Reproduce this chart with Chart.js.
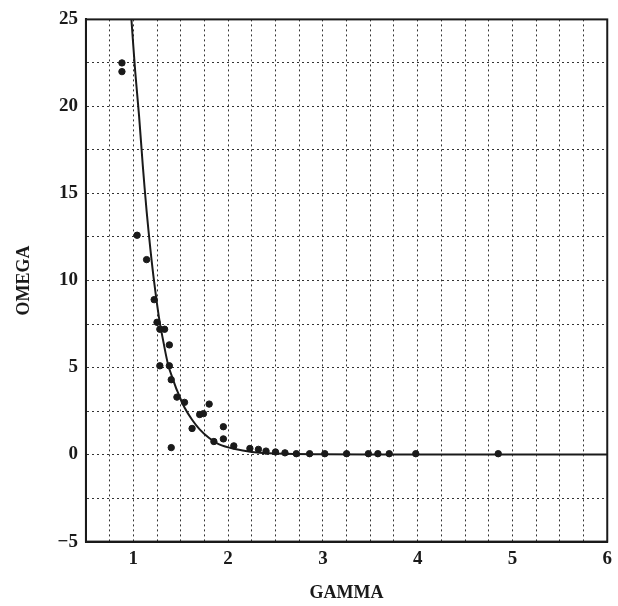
<!DOCTYPE html>
<html>
<head>
  <meta charset="UTF-8">
  <title>OMEGA vs GAMMA</title>
  <script src="https://cdn.jsdelivr.net/npm/chart.js"></script>
  <style>
    body { margin: 0; background: #fff; }
    #wrap { width: 618px; height: 606px; }
  </style>
</head>
<body>
  <div id="wrap"><canvas id="chart" width="618" height="606"></canvas></div>

  <script>
    // measured points (GAMMA, OMEGA)
    const gammaPts = [0.88, 0.88, 1.04, 1.14, 1.22, 1.25, 1.28, 1.33, 1.38, 1.28, 1.38, 1.40, 1.46, 1.54, 1.80, 1.70, 1.74, 1.62, 1.40, 1.95, 1.95, 1.85,
                      2.06, 2.23, 2.32, 2.40, 2.50, 2.60, 2.72, 2.86, 3.02, 3.25, 3.48, 3.58, 3.70, 3.98, 4.85];
    const omegaPts = [22.5, 22.0, 12.6, 11.2, 8.9, 7.6, 7.2, 7.2, 6.3, 5.1, 5.1, 4.3, 3.3, 3.0, 2.9, 2.3, 2.35, 1.5, 0.4, 1.6, 0.9, 0.75,
                      0.5, 0.35, 0.3, 0.2, 0.15, 0.1, 0.05, 0.05, 0.05, 0.05, 0.05, 0.05, 0.05, 0.05, 0.05];

    // fitted curve
    const gammaFit = [0.98, 1.02, 1.06, 1.10, 1.14, 1.18, 1.22, 1.27, 1.32, 1.37, 1.42, 1.46, 1.54, 1.62, 1.70, 1.80, 1.90, 2.06, 2.25, 2.50, 3.0, 4.0, 6.0];
    const omegaFit = [25, 22, 19.5, 16.6, 14, 11.8, 9.9, 7.9, 6.4, 5.1, 4.3, 3.7, 2.7, 2.0, 1.45, 0.95, 0.6, 0.33, 0.15, 0.06, 0.02, 0.0, 0.0];

    const xTicks = [1, 2, 3, 4, 5, 6];
    const yTicks = [-5, 0, 5, 10, 15, 20, 25];

    const ink = '#1a1a1a';
    const font = { family: 'Liberation Serif', weight: 'bold', size: 19 };

    const frame = {
      id: 'frame',
      afterDraw(chart) {
        const a = chart.chartArea, c = chart.ctx;
        c.save();
        c.strokeStyle = ink;
        c.lineWidth = 2;
        c.strokeRect(a.left, a.top, a.right - a.left, a.bottom - a.top);
        c.restore();
      }
    };

    new Chart(document.getElementById('chart'), {
      type: 'scatter',
      data: {
        datasets: [
          {
            data: gammaPts.map((g, i) => ({ x: g, y: omegaPts[i] })),
            backgroundColor: ink,
            borderColor: ink,
            pointRadius: 3.2
          },
          {
            type: 'line',
            data: gammaFit.map((g, i) => ({ x: g, y: omegaFit[i] })),
            borderColor: ink,
            borderWidth: 2,
            pointRadius: 0,
            tension: 0.3
          }
        ]
      },
      options: {
        responsive: false,
        animation: false,
        layout: { padding: { top: -2, right: 8, left: 14, bottom: 2 } },
        plugins: { legend: { display: false }, tooltip: { enabled: false } },
        scales: {
          x: {
            min: 0.5, max: 6,
            grid: { color: '#333', lineWidth: 1, drawTicks: false },
            border: { color: ink, width: 2, dash: [2, 3] },
            ticks: {
              stepSize: 0.25, color: ink, font: font, padding: 6,
              autoSkip: false, maxRotation: 0,
              callback: v => xTicks.includes(v) ? String(v) : ''
            },
            title: { display: true, text: 'GAMMA', color: ink, font: { family: 'Liberation Serif', weight: 'bold', size: 18 }, padding: { top: 6, bottom: 0 } }
          },
          y: {
            min: -5, max: 25,
            grid: { color: '#333', lineWidth: 1, drawTicks: false },
            border: { color: ink, width: 2, dash: [2, 3] },
            ticks: {
              stepSize: 2.5, color: ink, font: font, padding: 8,
              autoSkip: false,
              callback: v => yTicks.includes(v) ? (v < 0 ? '\u2212' + Math.abs(v) : String(v)) : ''
            },
            title: { display: true, text: 'OMEGA', color: ink, font: { family: 'Liberation Serif', weight: 'bold', size: 18 }, padding: { top: 0, bottom: 14 } }
          }
        }
      },
      plugins: [frame]
    });
  </script>
</body>
</html>
